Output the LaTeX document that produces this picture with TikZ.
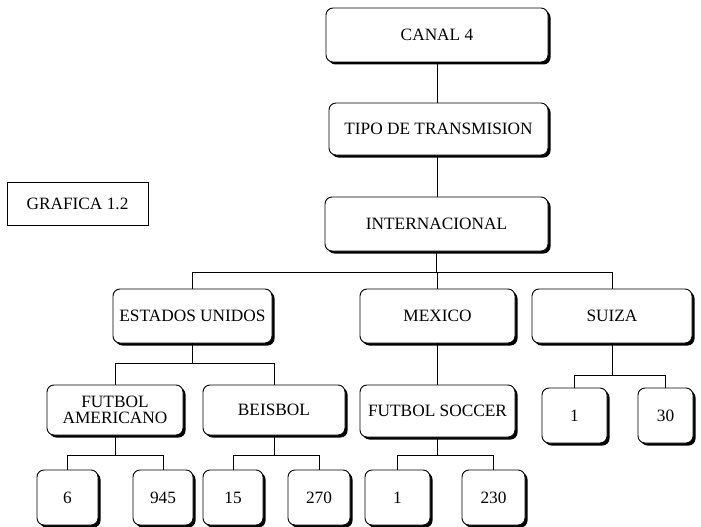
\documentclass[tikz,border=0pt]{standalone}
\usepackage{fontspec}
\setmainfont{Liberation Serif}
\usetikzlibrary{shadows}
\begin{document}
\begin{tikzpicture}[x=1pt,y=-1pt,
  box/.style={draw=black, line width=0.9pt, fill=white, rounded corners=7pt,
    inner sep=0pt, align=center, font=\fontsize{17.3}{19}\selectfont,
    drop shadow={shadow xshift=2.5pt, shadow yshift=-2.5pt, fill=black, opacity=1}},
  plain/.style={draw=black, line width=0.9pt, fill=white, inner sep=0pt,
    font=\fontsize{17.3}{19}\selectfont},
  link/.style={draw=black, line width=0.9pt}]
\useasboundingbox (0,0) rectangle (701,527);
% title box
\node[plain, minimum width=141pt, minimum height=43pt] (graf) at (77.5,203.5) {GRAFICA 1.2};
% level 0-2
\node[box, minimum width=222pt, minimum height=54pt] (canal) at (437,35) {CANAL 4};
\node[box, minimum width=219pt, minimum height=52pt] (tipo) at (438.5,129) {TIPO DE TRANSMISION};
\node[box, minimum width=223pt, minimum height=54pt] (intl) at (436.5,224) {INTERNACIONAL};
% countries
\node[box, minimum width=159pt, minimum height=54pt] (eu) at (192.5,316) {ESTADOS UNIDOS};
\node[box, minimum width=155pt, minimum height=54pt] (mex) at (437.5,316) {MEXICO};
\node[box, minimum width=160pt, minimum height=54pt] (suiza) at (612,316) {SUIZA};
% sports
\node[box, minimum width=136pt, minimum height=50pt] (fa) at (115,410) {FUTBOL\\[-3pt]AMERICANO};
\node[box, minimum width=142pt, minimum height=50pt] (beis) at (274,410) {BEISBOL};
\node[box, minimum width=155pt, minimum height=52pt] (fs) at (437.5,411) {FUTBOL SOCCER};
\node[box, minimum width=65pt, minimum height=55pt] (s1) at (574.5,415.5) {1};
\node[box, minimum width=55pt, minimum height=55pt] (s30) at (665.5,415.5) {30};
% numbers
\node[box, minimum width=61pt, minimum height=55pt] (n6) at (67.5,497.5) {6};
\node[box, minimum width=60pt, minimum height=55pt] (n945) at (163,497.5) {945};
\node[box, minimum width=60pt, minimum height=55pt] (n15) at (233,497.5) {15};
\node[box, minimum width=62pt, minimum height=55pt] (n270) at (319,497.5) {270};
\node[box, minimum width=65pt, minimum height=55pt] (n1) at (397.5,497.5) {1};
\node[box, minimum width=63pt, minimum height=55pt] (n230) at (493.5,497.5) {230};
% bus coordinates
\coordinate (b1) at (0,272);
\coordinate (b2) at (0,363);
\coordinate (b3) at (0,375);
\coordinate (b4) at (0,455);
% connectors
\draw[link] (canal.south) -- (canal.south |- tipo.north);
\draw[link] (tipo.south -| canal.south) -- (canal.south |- intl.north);
\draw[link] (intl.south) -- (intl.south |- b1) -| (eu.north);
\draw[link] (intl.south |- b1) -| (suiza.north);
\draw[link] (intl.south |- b1) -| (mex.north);
\draw[link] (eu.south) -- (eu.south |- b2) -| (fa.north);
\draw[link] (eu.south |- b2) -| (beis.north);
\draw[link] (mex.south) -- (fs.north);
\draw[link] (suiza.south) -- (suiza.south |- b3) -| (s1.north);
\draw[link] (suiza.south |- b3) -| (s30.north);
\draw[link] (fa.south) -- (fa.south |- b4) -| (n6.north);
\draw[link] (fa.south |- b4) -| (n945.north);
\draw[link] (beis.south) -- (beis.south |- b4) -| (n15.north);
\draw[link] (beis.south |- b4) -| (n270.north);
\draw[link] (fs.south) -- (fs.south |- b4) -| (n1.north);
\draw[link] (fs.south |- b4) -| (n230.north);
\end{tikzpicture}
\end{document}
